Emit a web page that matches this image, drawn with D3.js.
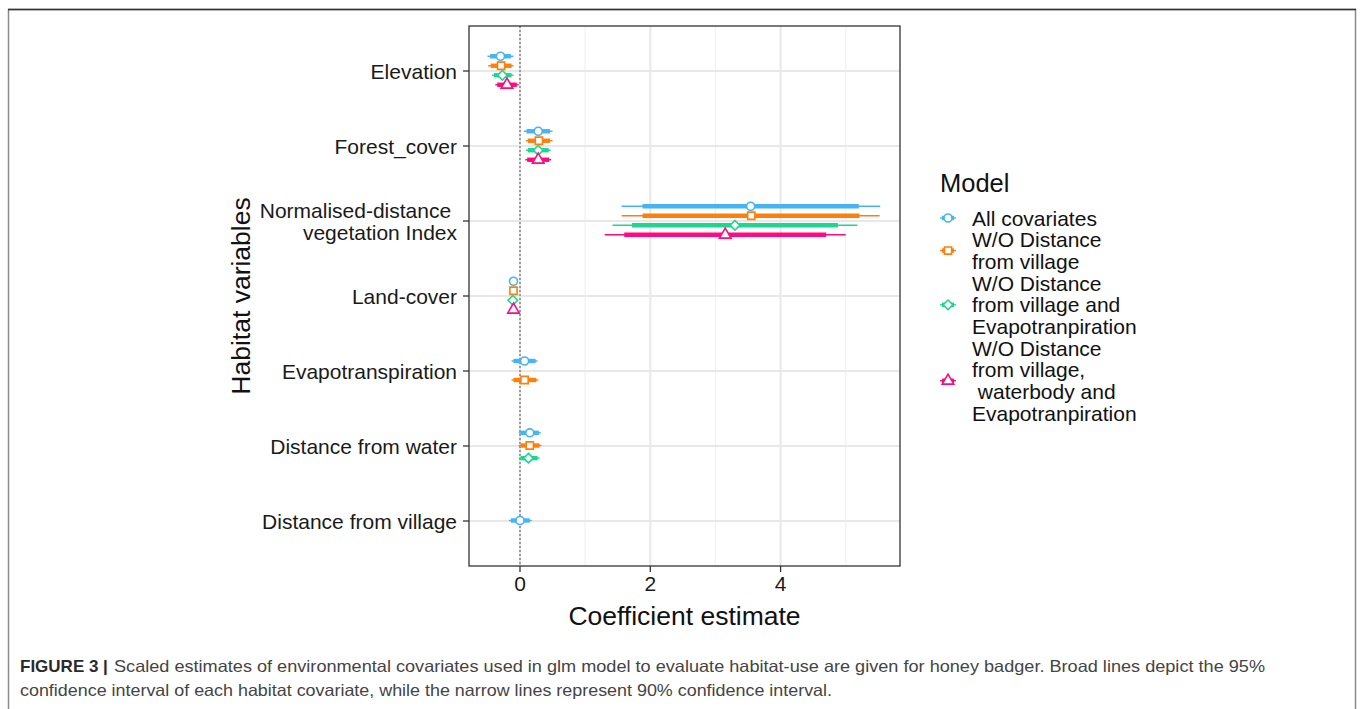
<!DOCTYPE html>
<html>

<head>
  <script src="https://d3js.org/d3.v7.min.js"></script>

  <style>
    body { margin: 0; background: #fff; }
    svg text { font-family: "Liberation Sans", Arial, sans-serif; white-space: pre; }
  </style>
</head>

<body>

  <div id="svgcontainer"></div>

  <script>

    /* data */
    var categories = ["Elevation", "Forest_cover", "NDVI", "Land-cover",
      "Evapotranspiration", "Distance from water", "Distance from village"];

    // tick labels (NDVI one is on two lines)
    var categoryLabels = [["Elevation"], ["Forest_cover"], ["Normalised-distance ", "vegetation Index"],
      ["Land-cover"], ["Evapotranspiration"], ["Distance from water"], ["Distance from village"]];

    var modelNames = ["All covariates", "W/O Distance from village",
      "W/O Distance from village and Evapotranpiration",
      "W/O Distance from village, waterbody and Evapotranpiration"];

    var modelLegendLines = [
      ["All covariates"],
      ["W/O Distance", "from village"],
      ["W/O Distance", "from village and", "Evapotranpiration"],
      ["W/O Distance", "from village,", " waterbody and", "Evapotranpiration"]
    ];

    var modelColors = ["#45b4f2", "#ff7f0a", "#1dd690", "#ff0a80"];

    // estimate per category, null when the model leaves that covariate out
    var estAll = [-0.30, 0.28, 3.54, -0.10, 0.07, 0.15, 0.00];
    var estWoVillage = [-0.29, 0.29, 3.55, -0.10, 0.07, 0.15, null];
    var estWoVillageEvapo = [-0.27, 0.28, 3.30, -0.11, null, 0.13, null];
    var estWoVillageWaterEvapo = [-0.20, 0.28, 3.15, -0.10, null, null, null];

    // broad (thick) interval
    var broadAll = [[-0.46, -0.14], [0.10, 0.46], [1.88, 5.20], [-0.13, -0.07], [-0.10, 0.24], [0.01, 0.29], [-0.14, 0.15]];
    var broadWoVillage = [[-0.45, -0.13], [0.12, 0.46], [1.88, 5.21], [-0.13, -0.07], [-0.10, 0.25], [0.01, 0.30], null];
    var broadWoVillageEvapo = [[-0.40, -0.13], [0.12, 0.44], [1.72, 4.88], [-0.14, -0.08], null, [0.01, 0.27], null];
    var broadWoVillageWaterEvapo = [[-0.35, -0.05], [0.11, 0.45], [1.60, 4.70], [-0.13, -0.07], null, null, null];

    // narrow (thin) interval
    var narrowAll = [[-0.50, -0.10], [0.06, 0.50], [1.56, 5.53], [-0.14, -0.06], [-0.13, 0.27], [-0.02, 0.32], [-0.17, 0.18]];
    var narrowWoVillage = [[-0.49, -0.10], [0.09, 0.50], [1.56, 5.52], [-0.14, -0.06], [-0.13, 0.28], [-0.02, 0.33], null];
    var narrowWoVillageEvapo = [[-0.43, -0.10], [0.09, 0.47], [1.42, 5.18], [-0.15, -0.07], null, [-0.02, 0.30], null];
    var narrowWoVillageWaterEvapo = [[-0.38, -0.02], [0.08, 0.48], [1.30, 5.00], [-0.14, -0.06], null, null, null];

    var xTicks = [0, 2, 4];
    var xMinorTicks = [1, 3, 5];

    var estimates = [estAll, estWoVillage, estWoVillageEvapo, estWoVillageWaterEvapo];
    var broadCI = [broadAll, broadWoVillage, broadWoVillageEvapo, broadWoVillageWaterEvapo];
    var narrowCI = [narrowAll, narrowWoVillage, narrowWoVillageEvapo, narrowWoVillageWaterEvapo];
    var shapes = [d3.symbolCircle, d3.symbolSquare, d3.symbolDiamond2, d3.symbolTriangle];
    var shapeSizes = [50, 52, 58, 58];


    /* svg set up */
    var W = 1360, H = 709;
    var panel = { left: 469, right: 900, top: 26, bottom: 566 };

    var svg = d3.select("#svgcontainer")
      .append("svg")
      .attr("width", W)
      .attr("height", H);

    // outer frame of the figure
    svg.append("rect")
      .attr("x", 8.5).attr("y", 9.5)
      .attr("width", 1347).attr("height", 720)
      .attr("fill", "none")
      .attr("stroke", "#8a8a8a")
      .attr("stroke-width", 1.5);
    svg.append("line")
      .attr("x1", 8).attr("x2", 1356)
      .attr("y1", 9.5).attr("y2", 9.5)
      .attr("stroke", "#333")
      .attr("stroke-width", 1.5);

    // scales
    var x = d3.scaleLinear()
      .domain([-0.783, 5.833])
      .range([panel.left, panel.right]);

    var y = d3.scalePoint()
      .domain(categories)
      .range([panel.top, panel.bottom])
      .padding(0.6);

    var dodgeWidth = 38;


    /* grid */
    var grid = svg.append("g");

    grid.selectAll(".minor")
      .data(xMinorTicks)
      .enter()
      .append("line")
      .attr("x1", d => x(d)).attr("x2", d => x(d))
      .attr("y1", panel.top).attr("y2", panel.bottom)
      .attr("stroke", "#f2f2f2")
      .attr("stroke-width", 1.2);

    grid.selectAll(".major")
      .data(xTicks)
      .enter()
      .append("line")
      .attr("x1", d => x(d)).attr("x2", d => x(d))
      .attr("y1", panel.top).attr("y2", panel.bottom)
      .attr("stroke", "#e8e8e8")
      .attr("stroke-width", 2);

    grid.selectAll(".hmajor")
      .data(categories)
      .enter()
      .append("line")
      .attr("x1", panel.left).attr("x2", panel.right)
      .attr("y1", d => y(d)).attr("y2", d => y(d))
      .attr("stroke", "#e8e8e8")
      .attr("stroke-width", 2);

    // dotted reference line at zero
    svg.append("line")
      .attr("x1", x(0)).attr("x2", x(0))
      .attr("y1", panel.top).attr("y2", panel.bottom)
      .attr("stroke", "#555")
      .attr("stroke-width", 1)
      .attr("stroke-dasharray", "2,2");


    /* build rows (one per model per category), dodged like ggplot */
    var rows = [];
    categories.forEach(function (cat, ci) {
      var present = [];
      for (var m = 0; m < estimates.length; m++) {
        if (estimates[m][ci] !== null) present.push(m);
      }
      var n = present.length;
      present.forEach(function (m, k) {
        rows.push({
          cat: cat,
          model: m,
          est: estimates[m][ci],
          broad: broadCI[m][ci],
          narrow: narrowCI[m][ci],
          yPos: y(cat) - 0.5 + (k - (n - 1) / 2) * dodgeWidth / n
        });
      });
    });

    var marks = svg.append("g");

    // narrow lines
    marks.selectAll(".thin")
      .data(rows)
      .enter()
      .append("line")
      .attr("x1", d => x(d.narrow[0])).attr("x2", d => x(d.narrow[1]))
      .attr("y1", d => d.yPos).attr("y2", d => d.yPos)
      .attr("stroke", d => modelColors[d.model])
      .attr("stroke-width", 1.4);

    // broad lines
    marks.selectAll(".thick")
      .data(rows)
      .enter()
      .append("line")
      .attr("x1", d => x(d.broad[0])).attr("x2", d => x(d.broad[1]))
      .attr("y1", d => d.yPos).attr("y2", d => d.yPos)
      .attr("stroke", d => modelColors[d.model])
      .attr("stroke-width", 4.4);

    // point estimates
    marks.selectAll("path")
      .data(rows)
      .enter()
      .append("path")
      .attr("d", d => d3.symbol().type(shapes[d.model]).size(shapeSizes[d.model])())
      .attr("transform", d => "translate(" + x(d.est) + "," + d.yPos + ")")
      .attr("fill", "white")
      .attr("stroke", d => modelColors[d.model])
      .attr("stroke-width", 1.6);


    /* panel border + axes */
    svg.append("rect")
      .attr("x", panel.left).attr("y", panel.top)
      .attr("width", panel.right - panel.left)
      .attr("height", panel.bottom - panel.top)
      .attr("fill", "none")
      .attr("stroke", "#333")
      .attr("stroke-width", 1.3);

    // x ticks
    var xAxis = svg.append("g");
    xAxis.selectAll("line")
      .data(xTicks)
      .enter()
      .append("line")
      .attr("x1", d => x(d)).attr("x2", d => x(d))
      .attr("y1", panel.bottom).attr("y2", panel.bottom + 6)
      .attr("stroke", "#333")
      .attr("stroke-width", 1.3);
    xAxis.selectAll("text")
      .data(xTicks)
      .enter()
      .append("text")
      .attr("x", d => x(d))
      .attr("y", 591)
      .attr("text-anchor", "middle")
      .style("font-size", "21px")
      .style("fill", "#1a1a1a")
      .text(d => d);

    // y ticks
    var yAxis = svg.append("g");
    yAxis.selectAll("line")
      .data(categories)
      .enter()
      .append("line")
      .attr("x1", panel.left - 6).attr("x2", panel.left)
      .attr("y1", d => y(d)).attr("y2", d => y(d))
      .attr("stroke", "#333")
      .attr("stroke-width", 1.3);

    yAxis.selectAll("text")
      .data(categories)
      .enter()
      .append("text")
      .attr("x", 457)
      .attr("y", d => y(d))
      .attr("text-anchor", "end")
      .style("font-size", "21px")
      .style("fill", "#1a1a1a")
      .each(function (d, i) {
        var lines = categoryLabels[i];
        var t = d3.select(this);
        lines.forEach(function (l, j) {
          t.append("tspan")
            .attr("x", 457)
            .attr("dy", j === 0 ? (7.5 - (lines.length - 1) * 11) + "px" : "22px")
            .text(l);
        });
      });

    // axis titles
    svg.append("text")
      .attr("x", (panel.left + panel.right) / 2)
      .attr("y", 625)
      .attr("text-anchor", "middle")
      .style("font-size", "26.5px")
      .style("fill", "#111")
      .text("Coefficient estimate");

    svg.append("text")
      .attr("transform", "translate(250," + ((panel.top + panel.bottom) / 2) + ") rotate(-90)")
      .attr("text-anchor", "middle")
      .style("font-size", "26.5px")
      .style("fill", "#111")
      .text("Habitat variables");


    /* legend */
    var legend = svg.append("g");
    legend.append("text")
      .attr("x", 940).attr("y", 192)
      .style("font-size", "25.5px")
      .style("fill", "#111")
      .text("Model");

    var lineH = 21.7, firstCenter = 218;
    var lineIdx = 0;
    modelLegendLines.forEach(function (lines, m) {
      var keyY = firstCenter + (lineIdx + (lines.length - 1) / 2) * lineH;
      var c = modelColors[m];
      legend.append("line")
        .attr("x1", 940).attr("x2", 956)
        .attr("y1", keyY).attr("y2", keyY)
        .attr("stroke", c).attr("stroke-width", 1.4);
      legend.append("line")
        .attr("x1", 942).attr("x2", 954)
        .attr("y1", keyY).attr("y2", keyY)
        .attr("stroke", c).attr("stroke-width", 4.4);
      legend.append("path")
        .attr("d", d3.symbol().type(shapes[m]).size(shapeSizes[m])())
        .attr("transform", "translate(948," + keyY + ")")
        .attr("fill", "white")
        .attr("stroke", c)
        .attr("stroke-width", 1.6);

      lines.forEach(function (l) {
        legend.append("text")
          .attr("x", 972)
          .attr("y", firstCenter + lineIdx * lineH + 7.5)
          .style("font-size", "21px")
          .style("fill", "#111")
          .text(l);
        lineIdx++;
      });
    });


    /* caption */
    svg.append("text")
      .attr("x", 20).attr("y", 672)
      .style("font-size", "17px")
      .style("font-weight", "bold")
      .style("fill", "#2a2a2a")
      .text("FIGURE 3 |");

    svg.append("text")
      .attr("x", 114).attr("y", 672)
      .attr("textLength", 1151)
      .attr("lengthAdjust", "spacingAndGlyphs")
      .style("font-size", "16.5px")
      .style("fill", "#444")
      .text("Scaled estimates of environmental covariates used in glm model to evaluate habitat-use are given for honey badger. Broad lines depict the 95%");

    svg.append("text")
      .attr("x", 20).attr("y", 696)
      .attr("textLength", 812)
      .attr("lengthAdjust", "spacingAndGlyphs")
      .style("font-size", "16.5px")
      .style("fill", "#444")
      .text("confidence interval of each habitat covariate, while the narrow lines represent 90% confidence interval.");

  </script>
</body>

</html>
